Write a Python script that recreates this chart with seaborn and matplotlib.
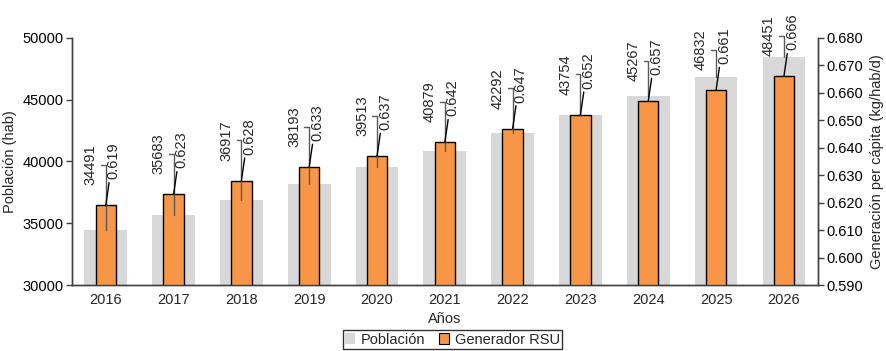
import pandas as pd
import matplotlib
matplotlib.use("Agg")
import matplotlib.pyplot as plt
import matplotlib.transforms as mtransforms
from matplotlib.patches import Patch
import seaborn as sns

# Datos del gráfico
anios = ["2016", "2017", "2018", "2019", "2020", "2021", "2022", "2023", "2024", "2025", "2026"]
poblacion = [34491, 35683, 36917, 38193, 39513, 40879, 42292, 43754, 45267, 46832, 48451]
generacion = [0.619, 0.623, 0.628, 0.633, 0.637, 0.642, 0.647, 0.652, 0.657, 0.661, 0.666]

GRIS = "#D8D8D9"
NARANJA = "#F79646"
EJE = "#404040"


def main():
    sns.set_theme(style="white")
    plt.rcParams["font.family"] = ["Liberation Sans", "DejaVu Sans"]
    plt.rcParams["font.size"] = 10.5

    df = pd.DataFrame({"ANIO": anios, "POBLACION": poblacion, "GENERACION": generacion})

    fig = plt.figure(figsize=(8.87, 3.51), dpi=100)
    ax = fig.add_axes([0.081, 0.188, 0.841, 0.704])
    ax2 = ax.twinx()

    sns.barplot(data=df, x="ANIO", y="POBLACION", color=GRIS, saturation=1,
                width=0.63, ax=ax, linewidth=0)
    sns.barplot(data=df, x="ANIO", y="GENERACION", color=NARANJA, saturation=1,
                width=0.3, ax=ax2, edgecolor="black", linewidth=1)

    ax.set_xlim(-0.5, 10.5)
    ax.set_ylim(30000, 50000)
    ax.set_yticks(range(30000, 50001, 5000))
    ax2.set_ylim(0.590, 0.680)
    ax2.set_yticks([0.590 + 0.01 * k for k in range(10)])
    ax2.set_yticklabels([f"{0.590 + 0.01 * k:.3f}" for k in range(10)])

    ax.set_xlabel("Años", fontsize=10.5, labelpad=3)
    ax.set_ylabel("Población (hab)", fontsize=10.5, labelpad=4)
    ax2.set_ylabel("Generación per cápita (kg/hab/d)", fontsize=10.5, labelpad=5)
    ax2.set_xlabel("")

    for a in (ax, ax2):
        for s in a.spines.values():
            s.set_color(EJE)
            s.set_linewidth(1)
        a.spines["top"].set_visible(False)
        a.tick_params(axis="y", length=4, width=1, color=EJE, labelsize=10.5,
                      pad=2, labelcolor="black")
        a.tick_params(axis="x", length=0, labelsize=10.5, pad=6)
        a.grid(False)

    # Etiquetas con líneas guía
    for i in range(len(anios)):
        t_pop = mtransforms.offset_copy(ax2.transData, fig=fig, x=-15, y=20, units="dots")
        ax2.annotate(str(poblacion[i]), xy=(i, poblacion[i]), xycoords=ax.transData,
                     xytext=(i, generacion[i]), textcoords=t_pop,
                     rotation=90, ha="center", va="bottom", fontsize=10.5,
                     arrowprops=dict(arrowstyle="-", color="#595959", lw=1,
                                     shrinkA=0, shrinkB=0, relpos=(1, 0.5),
                                     connectionstyle="angle,angleA=0,angleB=90,rad=0"),
                     annotation_clip=False, zorder=5)
        t_gen = mtransforms.offset_copy(ax2.transData, fig=fig, x=8, y=26, units="dots")
        ax2.annotate(f"{generacion[i]:.3f}", xy=(i, generacion[i]), xycoords=ax2.transData,
                     xytext=(i, generacion[i]), textcoords=t_gen,
                     rotation=90, ha="center", va="bottom", fontsize=10.5,
                     arrowprops=dict(arrowstyle="-", color="black", lw=1,
                                     shrinkA=0, shrinkB=0, relpos=(0.2, 0)),
                     annotation_clip=False, zorder=5)

    handles = [Patch(facecolor=GRIS, edgecolor="none"),
               Patch(facecolor=NARANJA, edgecolor="black", linewidth=0.8)]
    leg = fig.legend(handles, ["Población", "Generador RSU"], loc="lower center",
                     bbox_to_anchor=(0.51, 0.0), ncol=2, frameon=True, fancybox=False,
                     handlelength=0.7, handleheight=0.7, handletextpad=0.4,
                     columnspacing=0.9, borderpad=0.15, borderaxespad=0.15,
                     fontsize=10.5)
    leg.get_frame().set_edgecolor("black")
    leg.get_frame().set_linewidth(1)

    fig.savefig("out.png", dpi=100)
    plt.close(fig)


if __name__ == "__main__":
    main()
